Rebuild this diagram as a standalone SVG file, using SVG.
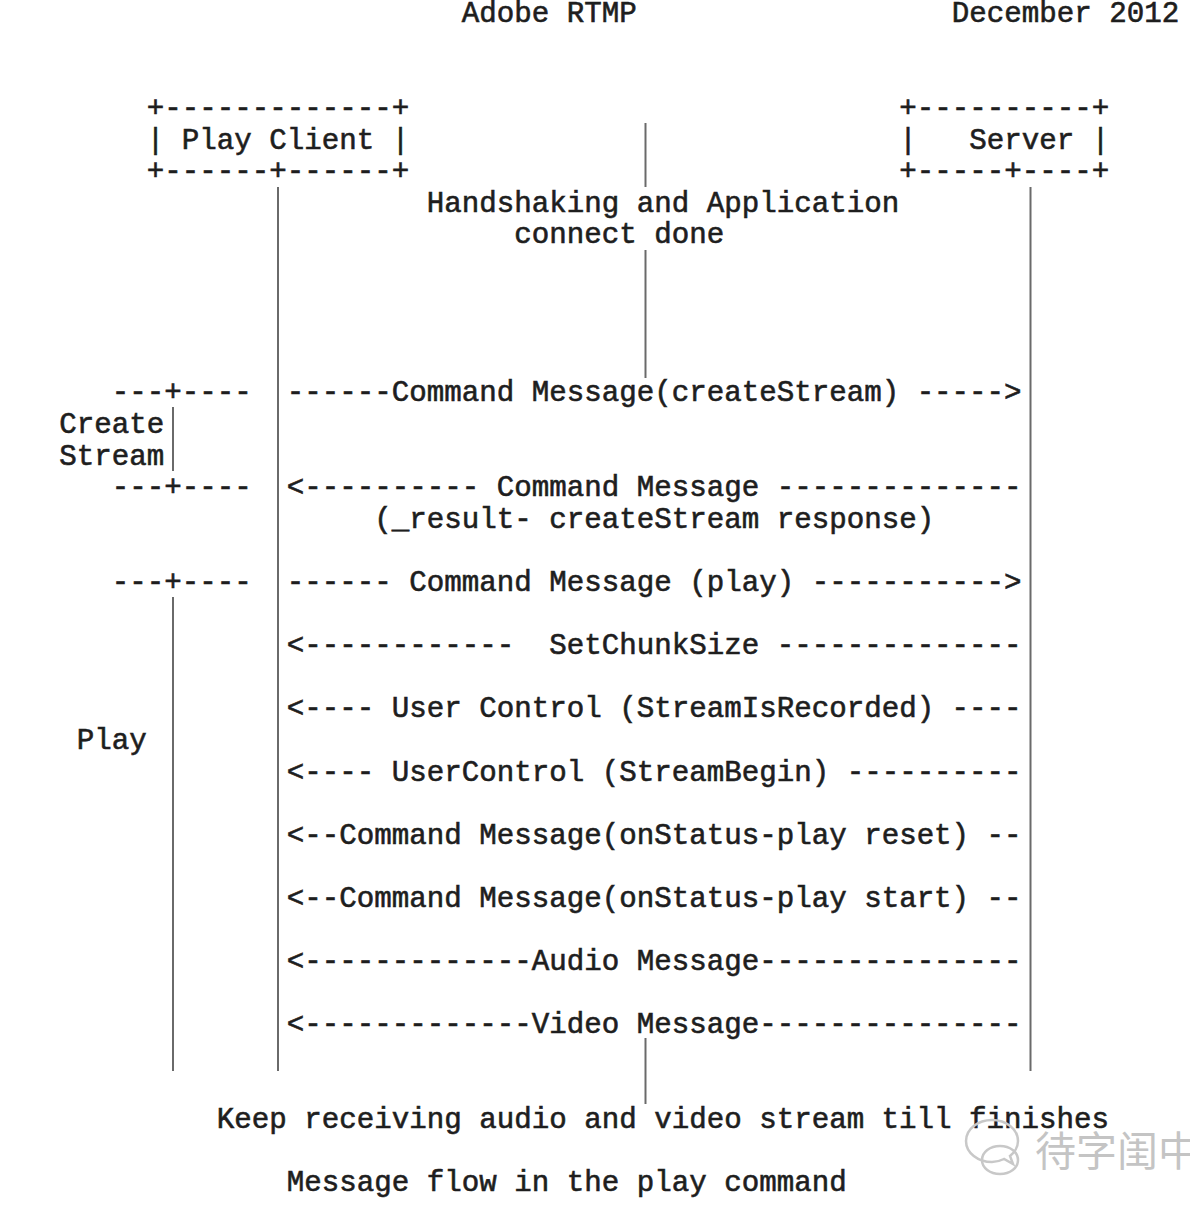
<svg xmlns="http://www.w3.org/2000/svg" width="1190" height="1224" viewBox="0 0 1190 1224">
  <defs>
    <style>
      .t { font-family: "Liberation Mono", "DejaVu Sans Mono", monospace; font-size: 29.17px; fill: #1e1e1e; stroke: #1e1e1e; stroke-width: 0.6px; white-space: pre; }
      .life { stroke: #6a6a6a; stroke-width: 2; fill: none; }
      .mark { font-family: "Noto Sans CJK SC", "Noto Sans", sans-serif; font-size: 41px; fill: #c4c4c4; }
      .icon { stroke: #c8c8c8; stroke-width: 2.5; fill: none; }
    </style>
  </defs>
  <rect width="1190" height="1224" fill="#ffffff"/>

  <!-- page header -->
  <g id="header">
    <text class="t" x="461.75" y="22.2">Adobe RTMP</text>
    <text class="t" x="951.75" y="22.2">December 2012</text>
  </g>

  <!-- participant boxes -->
  <g id="node-play-client">
    <text class="t" x="146.75" y="117">+-------------+</text>
    <text class="t" x="146.75" y="148.6">| Play Client |</text>
    <text class="t" x="146.75" y="180.2">+------+------+</text>
  </g>
  <g id="node-server">
    <text class="t" x="899.25" y="117">+----------+</text>
    <text class="t" x="899.25" y="148.6">|   Server |</text>
    <text class="t" x="899.25" y="180.2">+-----+----+</text>
  </g>

  <!-- phase brackets on the left -->
  <g id="phase-create-stream">
    <text class="t" x="111.75" y="401.4">---+----</text>
    <text class="t" x="59.25" y="433">Create</text>
    <text class="t" x="59.25" y="464.6">Stream</text>
    <text class="t" x="111.75" y="496.2">---+----</text>
    <line class="life" x1="173" y1="407" x2="173" y2="471"/>
  </g>
  <g id="phase-play">
    <text class="t" x="111.75" y="591">---+----</text>
    <text class="t" x="76.75" y="749">Play</text>
    <line class="life" x1="173" y1="597" x2="173" y2="1071"/>
  </g>

  <!-- lifelines and messages -->
  <g id="connectors">
    <line class="life" x1="278" y1="187" x2="278" y2="1071"/>
    <line class="life" x1="1030.5" y1="187" x2="1030.5" y2="1071"/>
    <line class="life" x1="645.5" y1="123" x2="645.5" y2="187"/>
    <line class="life" x1="645.5" y1="250" x2="645.5" y2="378"/>
    <line class="life" x1="645.5" y1="1038" x2="645.5" y2="1104"/>

    <text class="t" x="426.75" y="211.8">Handshaking and Application</text>
    <text class="t" x="514.25" y="243.4">connect done</text>

    <text class="t" x="286.75" y="401.4">------Command Message(createStream) -----&gt;</text>
    <text class="t" x="286.75" y="496.2">&lt;---------- Command Message --------------</text>
    <text class="t" x="374.25" y="527.8">(_result- createStream response)</text>
    <text class="t" x="286.75" y="591">------ Command Message (play) -----------&gt;</text>
    <text class="t" x="286.75" y="654.2">&lt;------------  SetChunkSize --------------</text>
    <text class="t" x="286.75" y="717.4">&lt;---- User Control (StreamIsRecorded) ----</text>
    <text class="t" x="286.75" y="780.6">&lt;---- UserControl (StreamBegin) ----------</text>
    <text class="t" x="286.75" y="843.8">&lt;--Command Message(onStatus-play reset) --</text>
    <text class="t" x="286.75" y="907">&lt;--Command Message(onStatus-play start) --</text>
    <text class="t" x="286.75" y="970.2">&lt;-------------Audio Message---------------</text>
    <text class="t" x="286.75" y="1033.4">&lt;-------------Video Message---------------</text>

    <text class="t" x="216.75" y="1128.2">Keep receiving audio and video stream till finishes</text>
  </g>

  <!-- caption -->
  <g id="caption">
    <text class="t" x="286.75" y="1191.4">Message flow in the play command</text>
  </g>

  <!-- account watermark -->
  <g id="watermark">
    <path class="icon" d="M992 1162 c-14 0 -26 -9 -26 -21 c0 -12 12 -21 26 -21 c14 0 26 9 26 21 c0 6 -3 11 -8 15 l3 8 l-9 -5 c-4 2 -8 3 -12 3 z"/>
    <path class="icon" d="M1000 1174 c-10 0 -18 -6 -18 -14 c0 -8 8 -14 18 -14 c10 0 18 6 18 14 c0 8 -8 14 -18 14 z"/>
    <text class="mark" x="1035" y="1166">待字闺中</text>
  </g>
</svg>
